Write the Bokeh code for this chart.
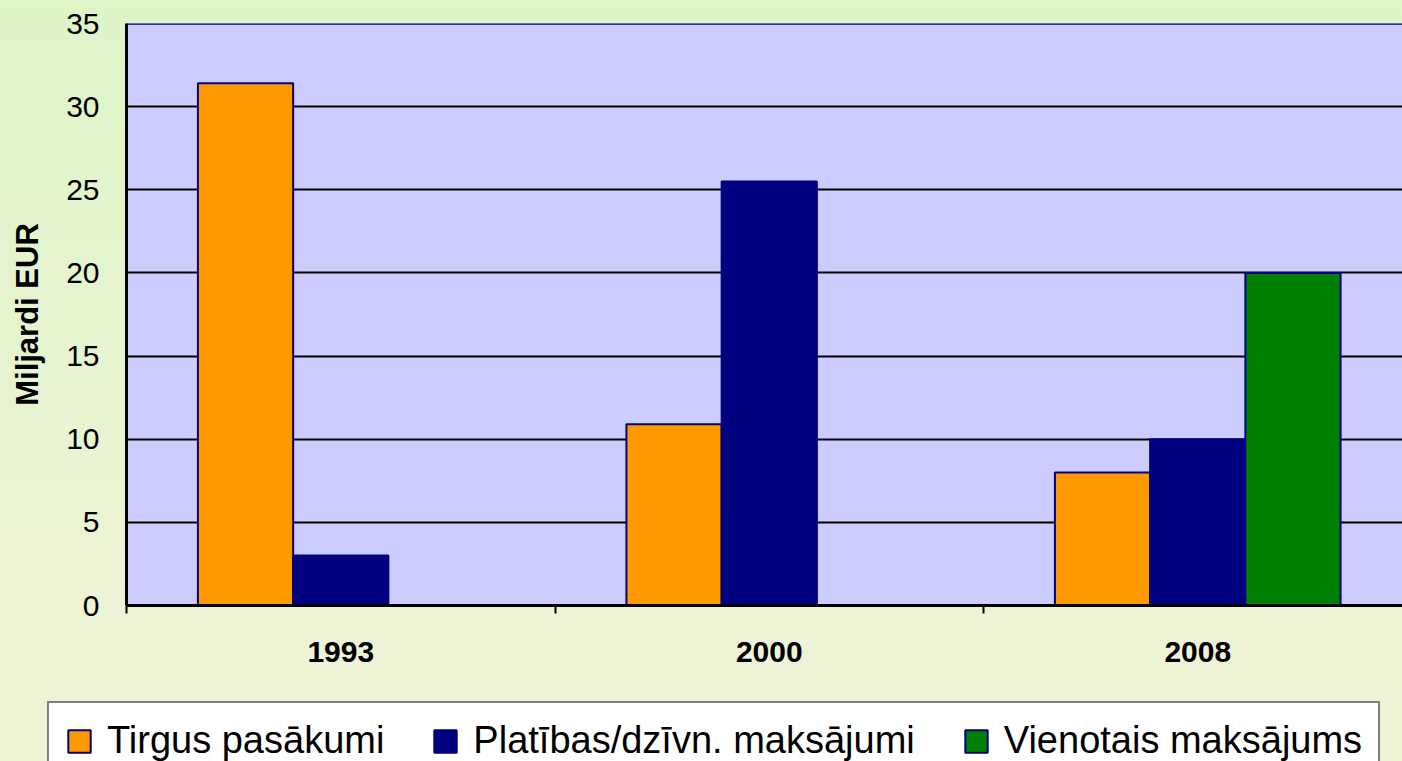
from bokeh.plotting import figure
from bokeh.models import ColumnDataSource, Range1d, FixedTicker, Legend, LegendItem, Span
from bokeh.embed import file_html
from bokeh.resources import INLINE

# ---- data ----
years = ["1993", "2000", "2008"]
tirgus = [31.4, 10.9, 8.0]
platibas = [3.0, 25.5, 10.0]
vienotais = [0.0, 0.0, 20.0]
series_names = ["Tirgus pasākumi", "Platības/dzīvn. maksājumi", "Vienotais maksājums"]
series_colors = ["#FF9900", "#000080", "#008000"]
y_ticks = [0, 5, 10, 15, 20, 25, 30, 35]
y_label = "Miljardi EUR"

FONT = "Liberation Sans"

centers = [i + 0.5 for i in range(len(years))]
bar_w = 1 / 4.5
offsets = [-bar_w, 0.0, bar_w]

W = 1402
H_MAIN = 701
H_LEG = 60

p = figure(width=W, height=H_MAIN, output_backend="svg", toolbar_location=None,
           x_range=Range1d(0, 1276 / 428.5), y_range=Range1d(0, 35),
           min_border_left=126, min_border_top=23, min_border_bottom=96,
           min_border_right=0)

p.border_fill_color = None
p.styles = {"background": "linear-gradient(to bottom, #DEF5C8 0%, #EEF3D6 91%, #EEF3D6 100%)"}
p.background_fill_color = "#CCCCFF"
p.outline_line_color = None

sources = []
for vals, off in zip([tirgus, platibas, vienotais], offsets):
    sources.append(ColumnDataSource(dict(x=[c + off for c in centers], top=vals, year=years)))

for src, col in zip(sources, series_colors):
    p.vbar(x="x", top="top", bottom=0, width=bar_w, source=src,
           fill_color=col, line_color="#000080", line_width=2)

# top border of plot area
p.add_layout(Span(location=35, dimension="width", line_color="#000080", line_width=2.5))

# grid
p.xgrid.grid_line_color = None
p.ygrid.ticker = FixedTicker(ticks=y_ticks)
p.ygrid.grid_line_color = "black"
p.ygrid.grid_line_width = 2

# y axis
p.yaxis.ticker = FixedTicker(ticks=y_ticks)
p.yaxis.axis_line_color = "black"
p.yaxis.axis_line_width = 3
p.yaxis.major_tick_out = 0
p.yaxis.major_tick_in = 0
p.yaxis.minor_tick_line_color = None
p.yaxis.major_label_text_font = FONT
p.yaxis.major_label_text_font_size = "30px"
p.yaxis.major_label_text_color = "black"
p.yaxis.major_label_standoff = 27
p.yaxis.axis_label = y_label
p.yaxis.axis_label_text_font = FONT
p.yaxis.axis_label_text_font_size = "31px"
p.yaxis.axis_label_text_font_style = "bold"
p.yaxis.axis_label_text_color = "black"
p.yaxis.axis_label_standoff = 18

# x axis
p.xaxis.ticker = FixedTicker(ticks=centers, minor_ticks=list(range(len(years) + 1)))
p.xaxis.major_label_overrides = {c: y for c, y in zip(centers, years)}
p.xaxis.major_tick_line_color = None
p.xaxis.minor_tick_line_color = "black"
p.xaxis.minor_tick_line_width = 2
p.xaxis.minor_tick_out = 8
p.xaxis.minor_tick_in = 0
p.xaxis.axis_line_color = "black"
p.xaxis.axis_line_width = 3
p.xaxis.major_label_text_font = FONT
p.xaxis.major_label_text_font_size = "30px"
p.xaxis.major_label_text_font_style = "bold"
p.xaxis.major_label_text_color = "black"
p.xaxis.major_label_standoff = 28

# ---- legend strip: its own canvas, the box runs past the bottom edge ----
pl = figure(width=W, height=H_LEG, output_backend="svg", toolbar_location=None,
            x_axis_location=None, y_axis_location=None,
            x_range=Range1d(0, 1), y_range=Range1d(100, 101),
            min_border_left=0, min_border_top=0, min_border_bottom=0, min_border_right=0)
pl.grid.grid_line_color = None
pl.outline_line_color = None
pl.background_fill_color = "#EEF3D6"
pl.border_fill_color = "#EEF3D6"
pl.styles = {"background": "#EEF3D6"}

leg_renderers = []
for src, col in zip(sources, series_colors):
    r = pl.vbar(x="x", top="top", bottom=0, width=bar_w, source=src,
                fill_color=col, line_color="#000080", line_width=2)
    leg_renderers.append(r)

legend = Legend(items=[LegendItem(label=n, renderers=[r]) for n, r in zip(series_names, leg_renderers)],
                location=(47, -19), orientation="horizontal",
                label_text_font=FONT, label_text_font_size="38px", label_text_color="black",
                glyph_width=28, glyph_height=28, label_standoff=14, spacing=47,
                padding=16, margin=0,
                border_line_color="black", border_line_width=2.5,
                background_fill_color="white", background_fill_alpha=1.0)
pl.add_layout(legend)

open("out.html", "w").write(file_html([p, pl], INLINE))
